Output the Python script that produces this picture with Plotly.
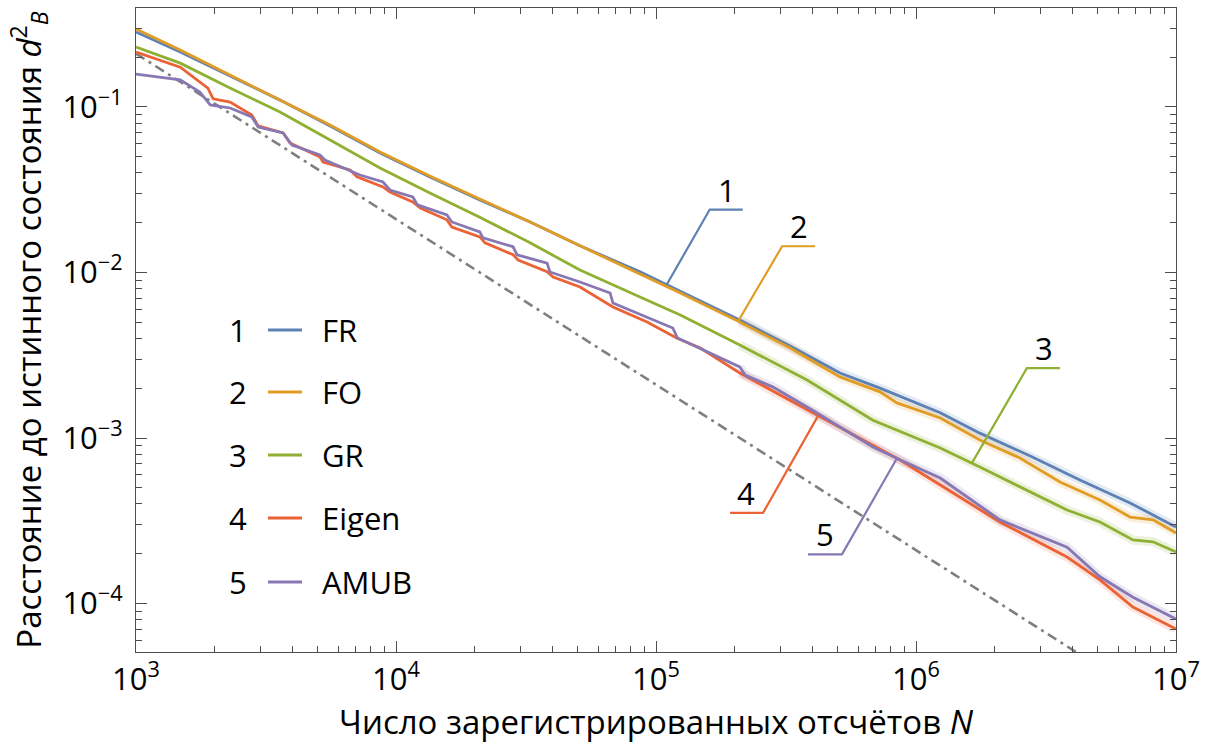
import numpy as np
import plotly.graph_objects as go

# Squared Bures distance to the true state versus number of registered counts N
fr_N = [1000, 1480, 2300, 3580, 5580, 8680, 13500, 21000, 32800, 51000, 86800, 124000,
        210000, 328000, 510000, 727000, 1240000, 1760000, 2750000, 4270000, 6660000, 10000000]
fr_d = [0.284, 0.215, 0.154, 0.110, 0.0768, 0.0527, 0.0378, 0.0274, 0.0202, 0.0145, 0.0101, 0.00773,
        0.00516, 0.00360, 0.00247, 0.00200, 0.00142, 0.00107, 0.000779, 0.000557, 0.000405, 0.000290]

fo_N = [1000, 1480, 2300, 3580, 5580, 8680, 13500, 21000, 32800, 51000, 86800, 124000,
        210000, 328000, 510000, 727000, 845000, 1240000, 1760000, 2510000, 3580000, 5100000,
        6660000, 8160000, 10000000]
fo_d = [0.296, 0.221, 0.156, 0.110, 0.0778, 0.0535, 0.0383, 0.0278, 0.0202, 0.0145, 0.0098, 0.00752,
        0.00502, 0.00350, 0.00234, 0.00190, 0.00163, 0.00132, 0.000973, 0.000757, 0.000542, 0.000422,
        0.000333, 0.000320, 0.000267]

gr_N = [1000, 1480, 2300, 3580, 5580, 8680, 13500, 21000, 32800, 51000, 86800, 124000,
        210000, 381000, 683000, 1240000, 1760000, 3190000, 3810000, 5100000, 6830000, 8160000, 10000000]
gr_d = [0.230, 0.184, 0.130, 0.0933, 0.0632, 0.0428, 0.0302, 0.0216, 0.0151, 0.01035, 0.00711, 0.00554,
        0.00365, 0.00224, 0.00128, 0.000870, 0.000668, 0.000422, 0.000367, 0.000311, 0.000242, 0.000236,
        0.000205]

eig_N = [1000, 1480, 1890, 1980, 2300, 2790, 2950, 3680, 3910, 5100, 5240, 6660, 7080, 8910, 9480,
         11600, 12400, 15700, 16400, 21000, 22000, 28200, 29500, 38100, 40200, 51000, 68300, 92400,
         120000, 148000, 210000, 300000, 510000, 868000, 1240000, 2100000, 3810000, 5100000, 6830000,
         10000000]
eig_d = [0.215, 0.174, 0.130, 0.112, 0.107, 0.0895, 0.0768, 0.0697, 0.0606, 0.0499, 0.0465, 0.0416,
         0.0378, 0.0329, 0.0306, 0.0267, 0.0245, 0.0208, 0.0188, 0.0164, 0.0151, 0.0128, 0.0119, 0.0101,
         0.00939, 0.00818, 0.00619, 0.00502, 0.00402, 0.00350, 0.00247, 0.00182, 0.00115, 0.000736,
         0.000520, 0.000311, 0.000191, 0.000139, 0.0000953, 0.0000701]

amub_N = [1000, 1240, 1480, 1760, 1930, 2300, 2790, 2950, 3680, 3980, 5100, 5330, 6830, 7270, 8910,
          9480, 11600, 12100, 15700, 16400, 21000, 21600, 28200, 29200, 38100, 39100, 51000, 66600,
          68300, 92400, 116000, 121000, 210000, 220000, 282000, 381000, 510000, 683000, 924000,
          1240000, 2100000, 3810000, 5100000, 6830000, 10000000]
amub_d = [0.158, 0.152, 0.146, 0.123, 0.103, 0.0986, 0.0870, 0.0757, 0.0697, 0.0589, 0.0513, 0.0478,
          0.0405, 0.0388, 0.0352, 0.0315, 0.0286, 0.0256, 0.0223, 0.0202, 0.0176, 0.0162, 0.0143, 0.0128,
          0.0114, 0.01007, 0.00876, 0.00752, 0.00654, 0.00538, 0.00462, 0.00402, 0.00269, 0.00240,
          0.00203, 0.00154, 0.00116, 0.000882, 0.000706, 0.000573, 0.000320, 0.000219, 0.000145,
          0.000109, 0.0000806]

# 1/N reference line
ref_N = [1000, 10000000]
ref_d = [0.21, 0.000021]

numbers = ["1", "2", "3", "4", "5"]
names = ["FR", "FO", "GR", "Eigen", "AMUB"]
colors = ["#5E81B5", "#E19C24", "#8FB032", "#EB6235", "#8778B3"]
halos = ["rgba(94,129,181,0.16)", "rgba(225,156,36,0.16)", "rgba(143,176,50,0.16)",
         "rgba(235,98,53,0.16)", "rgba(135,120,179,0.16)"]
curves = [(fr_N, fr_d), (fo_N, fo_d), (gr_N, gr_d), (eig_N, eig_d), (amub_N, amub_d)]

x_tick_labels = ["10<sup>3</sup>", "10<sup>4</sup>", "10<sup>5</sup>", "10<sup>6</sup>", "10<sup>7</sup>"]
y_tick_labels = ["10<sup>\u22124</sup>", "10<sup>\u22123</sup>", "10<sup>\u22122</sup>", "10<sup>\u22121</sup>"]

# ---- layout geometry ----
W, H = 1215, 747
ML, MR, MT, MB = 136, 39, 8, 95
PW, PH = W - ML - MR, H - MT - MB
x_range = [3.0, 7.0]
y_range = [-4.293, -0.402]
ppd_x = PW / (x_range[1] - x_range[0])
ppd_y = PH / (y_range[1] - y_range[0])

FONT = "Open Sans"
FS = 31
FS_TITLE = 33

fig = go.Figure()

# reference slope
fig.add_trace(go.Scatter(x=ref_N, y=ref_d, mode="lines",
                         line=dict(color="#7f7f7f", width=2.6, dash="10px,5px,3px,5px"),
                         hoverinfo="skip", showlegend=False))

# faint bands along the tails
for (N, d), hc in zip(curves, halos):
    N_arr, d_arr = np.array(N), np.array(d)
    keep = N_arr >= 150000
    fig.add_trace(go.Scatter(x=N_arr[keep], y=d_arr[keep], mode="lines",
                             line=dict(color=hc, width=9), hoverinfo="skip", showlegend=False))

for (N, d), c, name in zip(curves, colors, names):
    fig.add_trace(go.Scatter(x=N, y=d, mode="lines", name=name,
                             line=dict(color=c, width=2.8), showlegend=False))

# callout leaders: (curve index, anchor N, diagonal dx px, diagonal dy px (up), arm px)
callouts = [
    (0, 1.10e5, 43, 75, 33),
    (1, 2.07e5, 44, 75, 33),
    (2, 1.64e6, 55, 95, 33),
    (3, 4.2e5, -55, -97, -33),
    (4, 8.45e5, -55, -96, -34),
]
annotations = []
for idx, n0, dx, dy, arm in callouts:
    N, d = curves[idx]
    lx0 = np.log10(n0)
    ly0 = np.interp(lx0, np.log10(N), np.log10(d))
    cx = lx0 + dx / ppd_x
    cy = ly0 + dy / ppd_y
    ex = cx + arm / ppd_x
    fig.add_trace(go.Scatter(x=10 ** np.array([lx0, cx, ex]), y=10 ** np.array([ly0, cy, cy]),
                             mode="lines", line=dict(color=colors[idx], width=2.2),
                             hoverinfo="skip", showlegend=False))
    annotations.append(dict(x=cx, y=cy, xref="x", yref="y", text=numbers[idx], showarrow=False,
                            xanchor="center", yanchor="middle",
                            xshift=17 * np.sign(arm), yshift=20,
                            font=dict(family=FONT, size=FS, color="black")))

# key: number, line sample, name
row_px = [330, 392, 455, 518, 582]
shapes = []
for i, rp in enumerate(row_px):
    yp = 1 - (rp - MT) / PH
    annotations.append(dict(x=(238 - ML) / PW, y=yp, xref="paper", yref="paper", text=numbers[i],
                            showarrow=False, xanchor="center", yanchor="middle",
                            font=dict(family=FONT, size=FS, color="black")))
    annotations.append(dict(x=(320 - ML) / PW, y=yp, xref="paper", yref="paper", text=names[i],
                            showarrow=False, xanchor="left", yanchor="middle",
                            font=dict(family=FONT, size=FS, color="black")))
    shapes.append(dict(type="line", xref="paper", yref="paper",
                       x0=(268 - ML) / PW, x1=(302 - ML) / PW, y0=yp, y1=yp,
                       line=dict(color=colors[i], width=3)))

axis_common = dict(
    showline=True, linecolor="#4d4d4d", linewidth=1.3, mirror="allticks",
    ticks="inside", ticklen=11, tickwidth=1.2, tickcolor="#4d4d4d",
    showgrid=False, zeroline=False, automargin=False,
    tickfont=dict(family=FONT, size=FS, color="black"),
    title_font=dict(family=FONT, size=FS_TITLE, color="black"),
)

x_minor = [m * 10 ** e for e in range(3, 7) for m in range(2, 10)]
y_minor = [m * 10.0 ** e for e in range(-5, 0) for m in range(2, 10)]

fig.update_layout(
    width=W, height=H,
    margin=dict(l=ML, r=MR, t=MT, b=MB),
    paper_bgcolor="white", plot_bgcolor="white",
    showlegend=False,
    xaxis=dict(type="log", range=x_range,
               tickvals=[1e3, 1e4, 1e5, 1e6, 1e7], ticktext=x_tick_labels,
               minor=dict(tickvals=x_minor, ticks="inside", ticklen=6, tickwidth=1, tickcolor="#4d4d4d"),
               title=dict(text="Число зарегистрированных отсчётов <i>N</i>", standoff=6),
               **axis_common),
    yaxis=dict(type="log", range=y_range,
               tickvals=[1e-4, 1e-3, 1e-2, 1e-1], ticktext=y_tick_labels,
               minor=dict(tickvals=y_minor, ticks="inside", ticklen=6, tickwidth=1, tickcolor="#4d4d4d"),
               title=dict(text="Расстояние до истинного состояния <i>d</i><sup>2</sup><sub><i>B</i></sub>",
                          standoff=10),
               ticklabelstandoff=6,
               **axis_common),
    annotations=annotations,
    shapes=shapes,
)

fig.write_html("out.html")
